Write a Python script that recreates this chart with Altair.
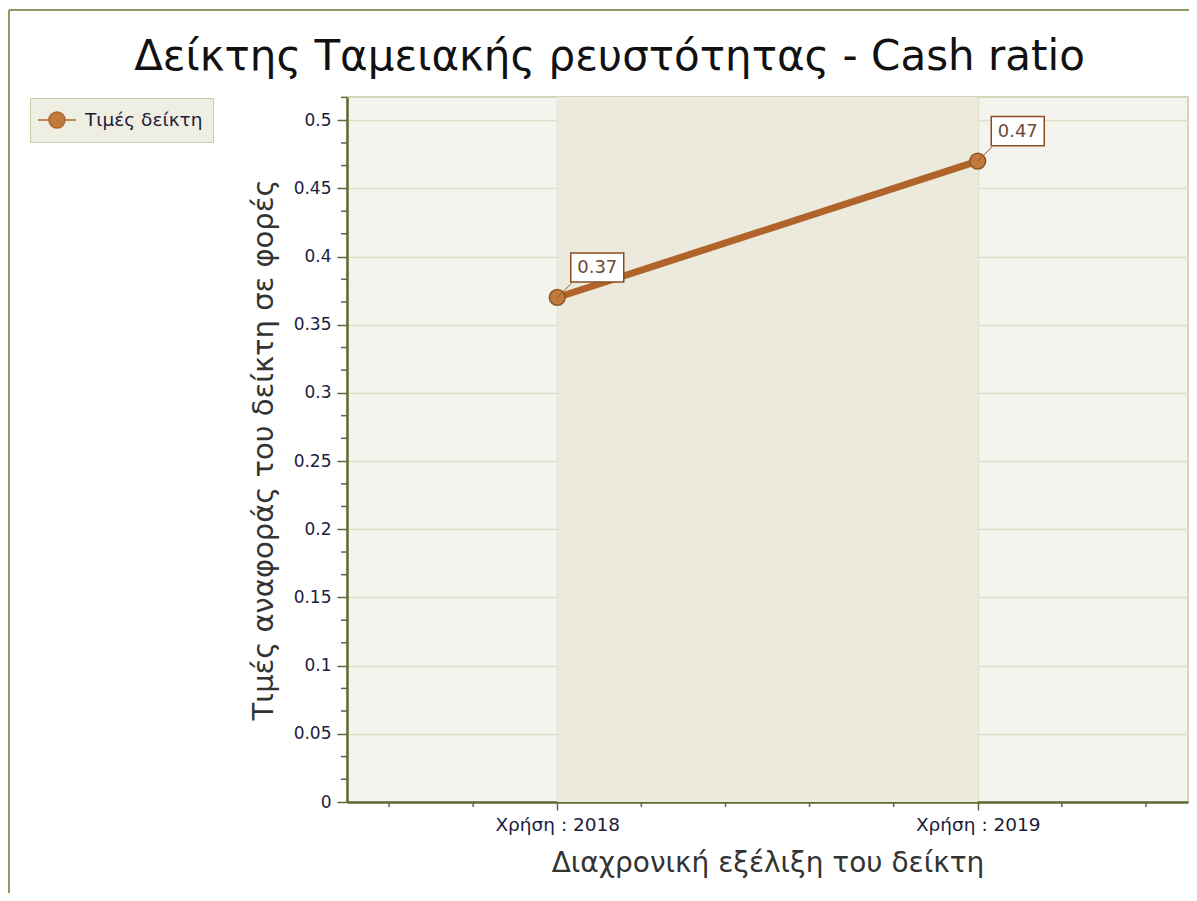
import altair as alt
import pandas as pd

years = [2018, 2019]
values = [0.37, 0.47]
series_name = "Τιμές δείκτη"
y_ticks = [0, 0.05, 0.1, 0.15, 0.2, 0.25, 0.3, 0.35, 0.4, 0.45, 0.5]
y_minor = [round(i * 0.05 / 3, 4) for i in range(0, 32) if i % 3 != 0]
x_minor = [2017.6, 2017.8, 2018.2, 2018.4, 2018.6, 2018.8, 2019.2, 2019.4]

W, H = 841, 705
LINE = "#b1642a"
PT_FILL = "#c07a3e"
PT_STROKE = "#93531f"
AX = "#5c6b38"
GRID = "#dedfca"

df = pd.DataFrame({"year": years, "value": values, "series": [series_name] * len(years),
                   "label": [f"{v:.2f}" for v in values]})
band = pd.DataFrame({"x0": [years[0]], "x1": [years[1]]})
yminor_df = pd.DataFrame({"v": y_minor})
xminor_df = pd.DataFrame({"v": x_minor})
frame_df = pd.DataFrame({"a": [0]})

xscale = alt.Scale(domain=[2017.5, 2019.5], nice=False, zero=False)
yscale = alt.Scale(domain=[0, 0.517], nice=False, zero=True)

xaxis = alt.Axis(values=years, labelExpr="'Χρήση : ' + datum.value", title="Διαχρονική εξέλιξη του δείκτη",
                 grid=True, gridColor=GRID, gridWidth=1.5, tickSize=8, tickColor=AX, tickWidth=1.5,
                 domainColor=AX, domainWidth=2.5, labelFont="DejaVu Sans", labelFontSize=18.5,
                 labelColor="#1c1c3c", labelPadding=5, titleFont="DejaVu Sans", titleFontSize=28,
                 titleFontWeight="normal", titleColor="#333333", titlePadding=16)
yaxis = alt.Axis(values=y_ticks, format="~g", title="Τιμές αναφοράς του δείκτη σε φορές", grid=True,
                 gridColor=GRID, gridWidth=1.5, tickSize=10, tickColor=AX, tickWidth=1.5, domainColor=AX,
                 domainWidth=2.5, labelFont="DejaVu Sans", labelFontSize=17, labelColor="#1c1c3c",
                 labelPadding=6, titleFont="DejaVu Sans", titleFontSize=29, titleFontWeight="normal",
                 titleColor="#333333", titlePadding=15)

bg = alt.Chart(band).mark_rect(color="#ebeadd").encode(
    x=alt.X("x0:Q", scale=xscale, axis=xaxis), x2="x1:Q",
    y=alt.value(0), y2=alt.value(H))

ymin = alt.Chart(yminor_df).mark_rule(color=AX, strokeWidth=1.5).encode(
    y=alt.Y("v:Q", scale=yscale, axis=yaxis), x=alt.value(-6), x2=alt.value(0))
xmin = alt.Chart(xminor_df).mark_rule(color=AX, strokeWidth=1.5).encode(
    x=alt.X("v:Q", scale=xscale), y=alt.value(H), y2=alt.value(H + 5))

# legend symbol: short line through a circle (unit = 11px)
legend_path = ("M-1.27,0H-0.28 M1.18,0H2.18 "
               "M-0.28,0A0.73,0.73 0 1,0 1.18,0A0.73,0.73 0 1,0 -0.28,0Z")

line = alt.Chart(df).mark_line(strokeWidth=7).encode(
    x=alt.X("year:Q", scale=xscale),
    y=alt.Y("value:Q", scale=yscale),
    color=alt.Color("series:N", scale=alt.Scale(range=[LINE]),
                    legend=alt.Legend(title=None, orient="none", legendX=-317, legendY=1,
                                      symbolType=legend_path, symbolSize=484,
                                      symbolFillColor=PT_FILL, symbolStrokeColor=PT_STROKE,
                                      symbolStrokeWidth=1.5, labelFont="DejaVu Sans",
                                      labelFontSize=18.5, labelColor="#1c1c3c", padding=10,
                                      fillColor="#eeeee2", strokeColor="#c9cdae",
                                      labelOffset=21)))

pts = alt.Chart(df).mark_point(filled=True, size=250, fill=PT_FILL, stroke=PT_STROKE,
                               strokeWidth=1.5, opacity=1).encode(
    x=alt.X("year:Q", scale=xscale), y=alt.Y("value:Q", scale=yscale))

leader = alt.Chart(df).mark_rule(color="#8c5a30", strokeWidth=1, x2Offset=14, y2Offset=-14).encode(
    x=alt.X("year:Q", scale=xscale), y=alt.Y("value:Q", scale=yscale),
    x2="year:Q", y2="value:Q")

box = alt.Chart(df).mark_point(shape="M-1,-0.55H1V0.55H-1Z", size=2809, filled=True, fill="white",
                               stroke="#8b4c22", strokeWidth=1.5, opacity=1, xOffset=40, yOffset=-30).encode(
    x=alt.X("year:Q", scale=xscale), y=alt.Y("value:Q", scale=yscale))

txt = alt.Chart(df).mark_text(font="DejaVu Sans", fontSize=18, color="#6e4a3a", dx=40, dy=-29,
                              baseline="middle", align="center").encode(
    x=alt.X("year:Q", scale=xscale), y=alt.Y("value:Q", scale=yscale), text="label:N")

frame_top = alt.Chart(frame_df).mark_rule(color="#8c9b62", strokeWidth=2).encode(
    x=alt.value(-338), x2=alt.value(900), y=alt.value(-87))
frame_left = alt.Chart(frame_df).mark_rule(color="#8c9b62", strokeWidth=2).encode(
    x=alt.value(-338), y=alt.value(-87), y2=alt.value(900))

chart = alt.layer(bg, ymin, xmin, line, pts, leader, box, txt, frame_top, frame_left).properties(
    width=W, height=H,
    view=alt.ViewBackground(fill="#f4f4ee", stroke="#d3d6b8", strokeWidth=2),
    title=alt.TitleParams("Δείκτης Ταμειακής ρευστότητας - Cash ratio", font="DejaVu Sans",
                          fontSize=42, fontWeight="normal", color="#111111", anchor="middle",
                          frame="group", dx=-158, offset=-70),
    autosize=alt.AutoSizeParams(type="none"),
    padding={"left": 339, "top": 89, "right": 1, "bottom": 91},
).configure(background="white")

chart.save("out.html", embed_options={"renderer": "svg", "actions": False})
